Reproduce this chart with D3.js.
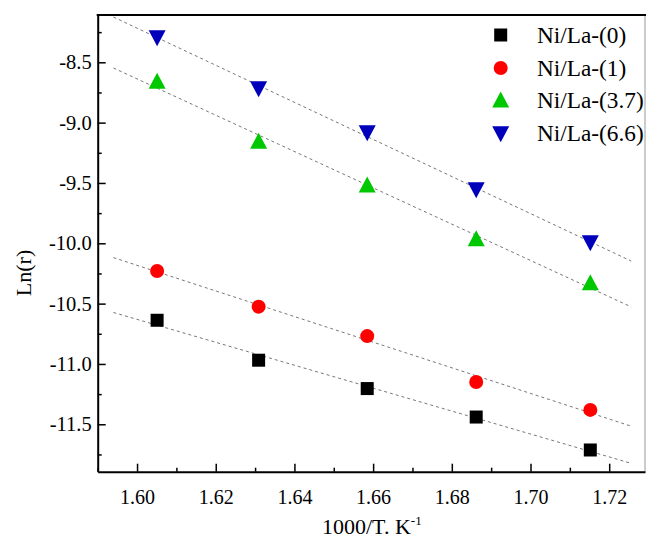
<!DOCTYPE html>
<html>
<head>
<meta charset="utf-8">
<script src="https://cdn.jsdelivr.net/npm/d3@7"></script>
<style>
  html, body { margin: 0; padding: 0; background: #fff; }
  svg { display: block; }
</style>
</head>
<body>
<svg id="chart" width="648" height="540" font-family="Liberation Serif"></svg>
<script>
// ---- data ----
const xValues = [1.6051, 1.6309, 1.6585, 1.6862, 1.7152];
const seriesNames = ["Ni/La-(0)", "Ni/La-(1)", "Ni/La-(3.7)", "Ni/La-(6.6)"];
const lnr0   = [-10.638, -10.969, -11.204, -11.440, -11.713];
const lnr1   = [-10.230, -10.525, -10.769, -11.149, -11.381];
const lnr37  = [-8.661, -9.158, -9.522, -9.967, -10.332];
const lnr66  = [-8.293, -8.716, -9.080, -9.552, -9.992];
const fitRange = [1.594, 1.7256];
const xTicks = [1.60, 1.62, 1.64, 1.66, 1.68, 1.70, 1.72];
const yTicks = [-8.5, -9.0, -9.5, -10.0, -10.5, -11.0, -11.5];
const xDomain = [1.590, 1.7291];
const yDomain = [-11.893, -8.108];

// ---- styles ----
const colors = ["#000000", "#ff0000", "#00c800", "#0000bb"];
const shapes = ["square", "circle", "triangle", "invtriangle"];
const allSeries = [lnr0, lnr1, lnr37, lnr66];
const FONT = "Liberation Serif";

const svg = d3.select("#chart");
const L = 97.7, T = 15, R = 645, B = 471.7;

const x = d3.scaleLinear().domain(xDomain).range([L, R]);
const y = d3.scaleLinear().domain(yDomain).range([B, T]);

svg.append("defs").append("clipPath").attr("id", "plotclip")
  .append("rect").attr("x", L).attr("y", T).attr("width", R - L).attr("height", B - T);

svg.append("line").attr("x1", R).attr("x2", R).attr("y1", T).attr("y2", B)
  .attr("stroke", "#999").attr("stroke-width", 1);
svg.append("line").attr("x1", L - 1).attr("x2", R + 1).attr("y1", T).attr("y2", T)
  .attr("stroke", "#000").attr("stroke-width", 2);

const minorX = d3.range(1.59, 1.7295, 0.01).map(v => +v.toFixed(3));
const minorY = d3.range(-11.75, -8.0, 0.25).map(v => +v.toFixed(3));

const xAxis = d3.axisBottom(x).tickValues(xTicks).tickFormat(d => d.toFixed(2))
  .tickSizeInner(-8).tickSizeOuter(0).tickPadding(18);
const gx = svg.append("g").attr("transform", `translate(0,${B})`).call(xAxis)
  .attr("font-family", FONT);
gx.select(".domain").attr("stroke", "#000").attr("stroke-width", 2);
gx.selectAll(".tick line").attr("stroke", "#000").attr("stroke-width", 1.5);
gx.selectAll(".tick text").attr("font-size", 20).attr("dy", "0.71em");

const gxm = svg.append("g").attr("transform", `translate(0,${B})`)
  .call(d3.axisBottom(x).tickValues(minorX.filter(v => !xTicks.some(t => Math.abs(t - v) < 1e-6)))
    .tickSizeInner(-4).tickSizeOuter(0).tickFormat(""));
gxm.select(".domain").remove();
gxm.selectAll(".tick line").attr("stroke", "#000").attr("stroke-width", 1.5);

const yAxis = d3.axisLeft(y).tickValues(yTicks).tickFormat(d => d.toFixed(1))
  .tickSizeInner(-8).tickSizeOuter(0).tickPadding(6);
const gy = svg.append("g").attr("transform", `translate(${L},0)`).call(yAxis)
  .attr("font-family", FONT);
gy.select(".domain").attr("stroke", "#000").attr("stroke-width", 2);
gy.selectAll(".tick line").attr("stroke", "#000").attr("stroke-width", 1.5);
gy.selectAll(".tick text").attr("font-size", 20.5);

const gym = svg.append("g").attr("transform", `translate(${L},0)`)
  .call(d3.axisLeft(y).tickValues(minorY.filter(v => !yTicks.some(t => Math.abs(t - v) < 1e-6)))
    .tickSizeInner(-4).tickSizeOuter(0).tickFormat(""));
gym.select(".domain").remove();
gym.selectAll(".tick line").attr("stroke", "#000").attr("stroke-width", 1.5);

function fit(xs, ys) {
  const mx = d3.mean(xs), my = d3.mean(ys);
  let num = 0, den = 0;
  xs.forEach((xv, i) => { num += (xv - mx) * (ys[i] - my); den += (xv - mx) * (xv - mx); });
  const b = num / den, a = my - b * mx;
  return v => a + b * v;
}
const fitG = svg.append("g").attr("clip-path", "url(#plotclip)");
allSeries.forEach(ys => {
  const f = fit(xValues, ys);
  fitG.append("line")
    .attr("x1", x(fitRange[0])).attr("y1", y(f(fitRange[0])))
    .attr("x2", x(fitRange[1])).attr("y2", y(f(fitRange[1])))
    .attr("stroke", "#777").attr("stroke-width", 1).attr("stroke-dasharray", "3,3");
});

function drawMarker(g, shape, cx, cy, color) {
  if (shape === "square") {
    g.append("rect").attr("x", cx - 6.5).attr("y", cy - 6.5).attr("width", 13).attr("height", 13).attr("fill", color);
  } else if (shape === "circle") {
    g.append("circle").attr("cx", cx).attr("cy", cy).attr("r", 7).attr("fill", color);
  } else if (shape === "triangle") {
    g.append("path").attr("d", `M${cx},${cy - 9}L${cx + 8.5},${cy + 7}L${cx - 8.5},${cy + 7}Z`).attr("fill", color);
  } else {
    g.append("path").attr("d", `M${cx},${cy + 9}L${cx + 8.5},${cy - 7}L${cx - 8.5},${cy - 7}Z`).attr("fill", color);
  }
}
const mg = svg.append("g");
allSeries.forEach((ys, si) => {
  ys.forEach((v, i) => drawMarker(mg, shapes[si], x(xValues[i]), y(v), colors[si]));
});

const legY = [35, 68, 100.5, 133.3];
seriesNames.forEach((name, i) => {
  drawMarker(svg, shapes[i], 500.7, legY[i], colors[i]);
  svg.append("text").attr("x", 537).attr("y", legY[i] + 7.5)
    .attr("font-family", FONT).attr("font-size", 23.3).text(name);
});

const xt = svg.append("text").attr("x", 322).attr("y", 534).attr("font-family", FONT).attr("font-size", 22);
xt.append("tspan").text("1000/T. K");
xt.append("tspan").attr("font-size", 13).attr("dy", -9).text("-1");

svg.append("text").attr("transform", "translate(31,273) rotate(-90)")
  .attr("font-family", FONT).attr("text-anchor", "middle").attr("font-size", 22).text("Ln(r)");
</script>
</body>
</html>
